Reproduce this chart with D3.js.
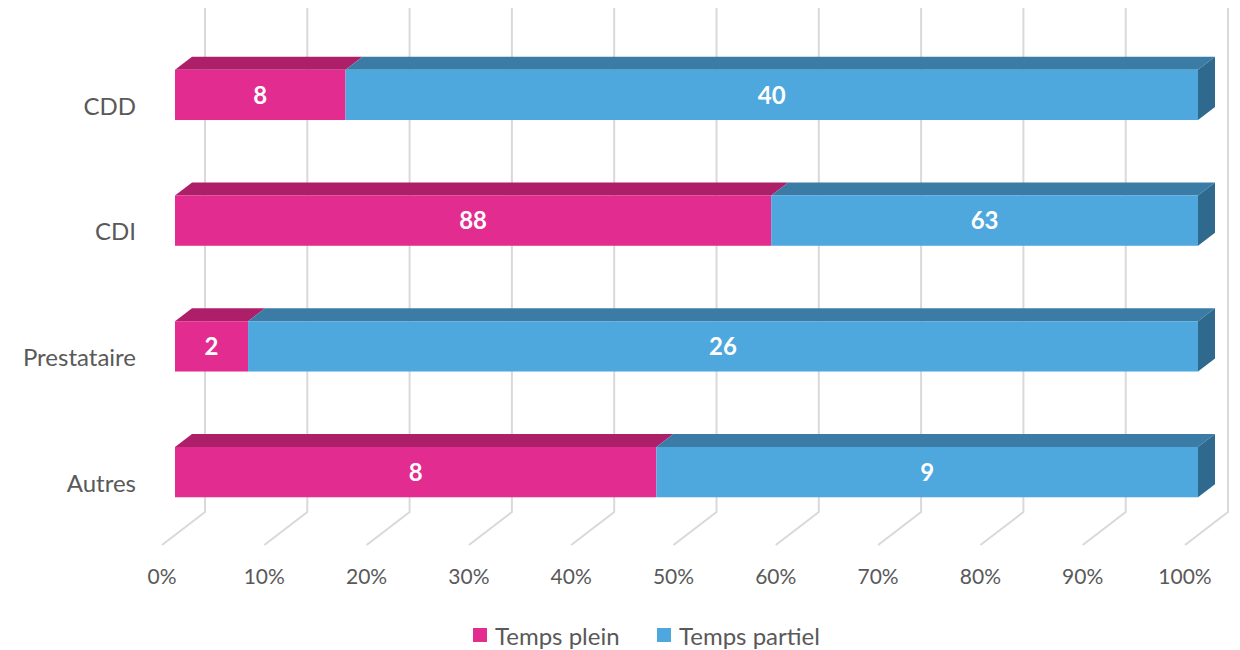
<!DOCTYPE html>
<html>
<head>
<meta charset="utf-8">
<script src="https://cdn.jsdelivr.net/npm/d3@7"></script>
<style>
  body { margin: 0; background: #fff; }
  text { font-family: Lato, "Open Sans", sans-serif; }
</style>
</head>
<body>
<div id="chart"></div>
<script>
const categories = ['CDD', 'CDI', 'Prestataire', 'Autres'];
const seriesNames = ['Temps plein', 'Temps partiel'];
const tempsPlein = [8, 88, 2, 8];
const tempsPartiel = [40, 63, 26, 9];
const tickValues = [0, 0.1, 0.2, 0.3, 0.4, 0.5, 0.6, 0.7, 0.8, 0.9, 1];

const W = 1240, H = 650;
const front = {fill: ['#e32c8f', '#4ea8dd'], top: ['#ad2069', '#3b7ca6'], side: ['#2f6a8e', '#2f6a8e']};

// 3D geometry: back wall, bar plane, front floor edge
const backX = 205, barX = 175, frontX = 162;
const wallTop = 8, floorBack = 512, floorFront = 545;
const depthX = 17, depthY = -13; // bar depth offset
const plotW = 1023;

const x = d3.scaleLinear().domain([0, 1]).range([0, plotW]);
const y = d3.scaleBand().domain(categories).range([32, 535]).paddingInner(0.6).paddingOuter(0.3);

const svg = d3.select('#chart').append('svg')
    .attr('width', W)
    .attr('height', H);

// gridlines on back wall + floor
const grid = svg.append('g').attr('stroke', '#d9d9d9').attr('stroke-width', 2).attr('fill', 'none');
grid.selectAll('path')
    .data(tickValues)
    .enter()
    .append('path')
    .attr('d', d => 'M' + (backX + x(d)) + ',' + wallTop +
      'L' + (backX + x(d)) + ',' + floorBack +
      'L' + (frontX + x(d)) + ',' + floorFront);

// tick labels
svg.append('g')
    .selectAll('text')
    .data(tickValues)
    .enter()
    .append('text')
    .attr('x', d => frontX + x(d))
    .attr('y', 584)
    .attr('text-anchor', 'middle')
    .attr('font-size', 21)
    .attr('fill', '#595959')
    .text(d3.format('.0%'));

// stacked data
const rows = categories.map((c, i) => {
  const vals = [tempsPlein[i], tempsPartiel[i]];
  const total = d3.sum(vals);
  let acc = 0;
  return vals.map((v, s) => {
    const seg = {cat: c, s: s, v: v, x0: acc / total, x1: (acc + v) / total};
    acc += v;
    return seg;
  });
});

const bars = svg.append('g');
rows.forEach(segs => {
  const g = bars.append('g');
  const y0 = y(segs[0].cat);
  const bh = y.bandwidth();
  segs.forEach((d, k) => {
    const a = barX + x(d.x0), b = barX + x(d.x1);
    // top face
    g.append('path')
        .attr('fill', front.top[d.s])
        .attr('d', 'M' + a + ',' + y0 + 'L' + (a + depthX) + ',' + (y0 + depthY) +
          'L' + (b + depthX) + ',' + (y0 + depthY) + 'L' + b + ',' + y0 + 'Z');
    // front face
    g.append('rect')
        .attr('x', a)
        .attr('y', y0)
        .attr('width', b - a)
        .attr('height', bh)
        .attr('fill', front.fill[d.s]);
    if (k === segs.length - 1) {
      g.append('path')
          .attr('fill', front.side[d.s])
          .attr('d', 'M' + b + ',' + y0 + 'L' + (b + depthX) + ',' + (y0 + depthY) +
            'L' + (b + depthX) + ',' + (y0 + bh + depthY) + 'L' + b + ',' + (y0 + bh) + 'Z');
    }
    g.append('text')
        .attr('x', (a + b) / 2)
        .attr('y', y0 + bh / 2)
        .attr('dy', '0.36em')
        .attr('text-anchor', 'middle')
        .attr('font-size', 24)
        .attr('font-weight', 'bold')
        .attr('fill', '#fff')
        .text(d.v);
  });
});

// category labels (sit a little below the bar centre, as in 3D axis)
svg.append('g')
    .selectAll('text')
    .data(categories)
    .enter()
    .append('text')
    .attr('x', 136)
    .attr('y', d => y(d) + y.bandwidth() / 2 + 11)
    .attr('dy', '0.36em')
    .attr('text-anchor', 'end')
    .attr('font-size', 24)
    .attr('fill', '#595959')
    .text(d => d);

// legend
const legend = svg.append('g');
const legendX = [473, 657];
seriesNames.forEach((n, i) => {
  legend.append('rect')
      .attr('x', legendX[i])
      .attr('y', 628)
      .attr('width', 14)
      .attr('height', 14)
      .attr('fill', front.fill[i]);
  legend.append('text')
      .attr('x', legendX[i] + 22)
      .attr('y', 636)
      .attr('dy', '0.36em')
      .attr('font-size', 24)
      .attr('fill', '#595959')
      .text(n);
});
</script>
</body>
</html>
